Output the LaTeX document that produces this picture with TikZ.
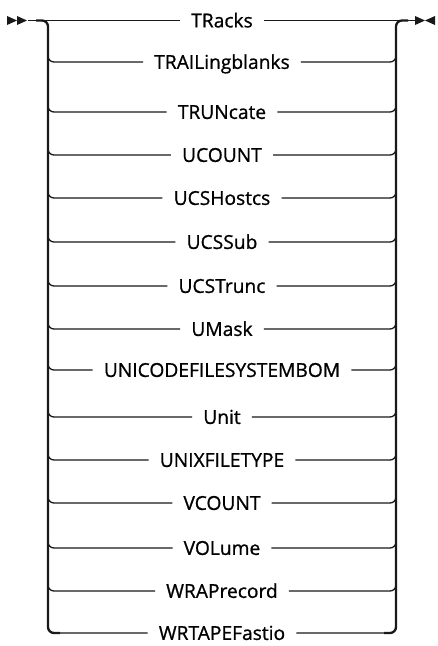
\documentclass[tikz,border=0pt]{standalone}
\usepackage{fontspec}
\newfontfamily\kwfont[FakeBold=0.9]{Open Sans}
\usepackage{tikz}
\usetikzlibrary{calc}

\begin{document}
\begin{tikzpicture}[
  x=1pt, y=-1pt,
  font=\kwfont\fontsize{19.2}{22}\selectfont,
  kw/.style={
    inner xsep=11pt,
    inner ysep=0pt,
    text height=13.8pt,
    text depth=0pt
  },
  rail/.style={line width=1.3pt, black!90},
  vert/.style={line width=2.3pt, black!90, rounded corners=6pt},
  branchl/.style={rail, rounded corners=6pt},
  tip/.style={fill=black!90}
]
  \useasboundingbox (0,0) rectangle (437,646);

  % Keywords
  \node[kw] (tracks)  at (222,20.5) {TRacks};
  \node[kw] (trail)   at (222,62)   {TRAILingblanks};
  \node[kw] (trunc)   at (222,112)  {TRUNcate};
  \node[kw] (ucount)  at (222,155)  {UCOUNT};
  \node[kw] (ucsh)    at (222,198)  {UCSHostcs};
  \node[kw] (ucss)    at (222,242)  {UCSSub};
  \node[kw] (ucst)    at (222,286)  {UCSTrunc};
  \node[kw] (umask)   at (222,329)  {UMask};
  \node[kw] (unicode) at (222,370)  {UNICODEFILESYSTEMBOM};
  \node[kw] (unit)    at (222,417)  {Unit};
  \node[kw] (unix)    at (222,460)  {UNIXFILETYPE};
  \node[kw] (vcount)  at (222,503)  {VCOUNT};
  \node[kw] (volume)  at (222,548)  {VOLume};
  \node[kw] (wrap)    at (222,591)  {WRAPrecord};
  \node[kw] (wrtape)  at (222,633)  {WRTAPEFastio};

  % Rail ends
  \coordinate (begin)  at (28,20.5);
  \coordinate (finish) at (415,20.5);
  \coordinate (lt) at (48,20.5);
  \coordinate (rt) at (396,20.5);

  \fill[tip] (7,16) -- (17,20.5) -- (7,25) -- cycle;
  \fill[tip] (17,16) -- (27,20.5) -- (17,25) -- cycle;
  \fill[tip] (415,16) -- (425,20.5) -- (415,25) -- cycle;
  \fill[tip] (435,16) -- (425,20.5) -- (435,25) -- cycle;

  % Main line
  \draw[rail] (begin) -- (tracks.west);
  \draw[rail] (tracks.east) -- (finish);

  % Verticals
  \draw[vert] ([xshift=-12pt]lt) -- (lt) -- (lt |- wrtape) -- ([xshift=12pt]lt |- wrtape);
  \draw[vert] ([xshift=12pt]rt) -- (rt) -- (rt |- wrtape) -- ([xshift=-12pt]rt |- wrtape);

  % Branches
  \foreach \k in {trail,trunc,ucount,ucsh,ucss,ucst,umask,unicode,unit,unix,vcount,volume,wrap,wrtape}{
    \draw[branchl] ([yshift=14pt]lt |- \k) -- (lt |- \k) -- (\k.west);
    \draw[branchl] (\k.east) -- (rt |- \k) -- ([yshift=14pt]rt |- \k);
  }
\end{tikzpicture}
\end{document}
